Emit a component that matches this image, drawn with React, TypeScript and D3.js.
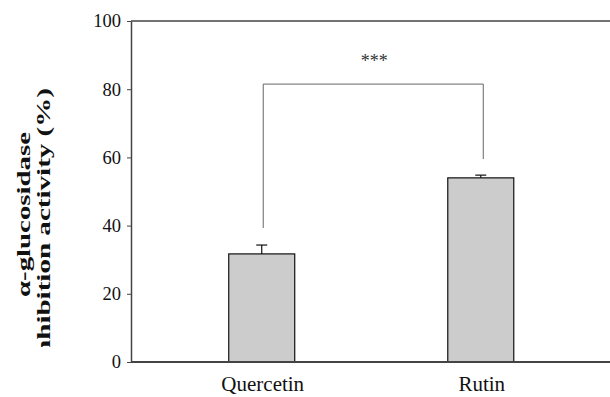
import React, { useRef, useEffect } from 'react';
import * as d3 from 'd3';

const categories = ['Quercetin', 'Rutin'];
const means = [31.7, 54.0];
const errors = [2.6, 0.8];
const yTicks = [0, 20, 40, 60, 80, 100];
// significance bracket: top level and the two leg ends (in % units)
const bracketTop = 81.5;
const bracketLegs = [39.3, 59.5];
const sigLabel = '***';
const yLabelLines = ['\u03b1-glucosidase', 'inhibition activity (%)'];

const App = () => {
    const ref = useRef<SVGSVGElement>(null);

    useEffect(() => {
        const svg = d3.select(ref.current);
        svg.selectAll('*').remove();

        const W = 610, H = 397;
        const margin = { top: 21, right: 0, bottom: 35, left: 131 };
        const serif = 'Liberation Serif, Times New Roman, serif';

        const x = d3.scalePoint<string>()
            .domain(categories)
            .range([margin.left + 1.5, W])
            .padding(0.59);
        const barW = 66;

        const y = d3.scaleLinear()
            .domain([0, 100])
            .range([H - margin.bottom, margin.top]);

        // bars
        svg.append('g')
            .selectAll('rect')
            .data(categories)
            .enter().append('rect')
            .attr('x', d => (x(d) as number) - barW / 2)
            .attr('y', (d, i) => y(means[i]))
            .attr('width', barW)
            .attr('height', (d, i) => y(0) - y(means[i]))
            .attr('fill', '#cccccc')
            .attr('stroke', '#111')
            .attr('stroke-width', 1.2);

        // error bars (upper only)
        const eb = svg.append('g').attr('stroke', '#111').attr('stroke-width', 1.2);
        categories.forEach((c, i) => {
            const cx = x(c) as number;
            eb.append('line')
                .attr('x1', cx).attr('x2', cx)
                .attr('y1', y(means[i])).attr('y2', y(means[i] + errors[i]));
            eb.append('line')
                .attr('x1', cx - 5.5).attr('x2', cx + 5.5)
                .attr('y1', y(means[i] + errors[i])).attr('y2', y(means[i] + errors[i]));
        });

        // axes frame: left axis, bottom line, top line
        const axis = svg.append('g')
            .attr('transform', 'translate(' + margin.left + ',0)')
            .call(d3.axisLeft(y).tickValues(yTicks).tickSize(4).tickSizeOuter(0).tickPadding(6));
        axis.attr('font-family', null).attr('font-size', null);
        axis.select('.domain').attr('stroke', '#444').attr('stroke-width', 1.5);
        axis.selectAll('.tick line').attr('stroke', '#444');
        axis.selectAll('.tick text')
            .style('font-family', serif)
            .style('font-size', '18.5px')
            .attr('fill', '#111');

        svg.append('line')
            .attr('x1', margin.left).attr('x2', W)
            .attr('y1', y(0)).attr('y2', y(0))
            .attr('stroke', '#444').attr('stroke-width', 2);
        svg.append('line')
            .attr('x1', margin.left).attr('x2', W)
            .attr('y1', y(100)).attr('y2', y(100))
            .attr('stroke', '#444').attr('stroke-width', 1.5);

        // category labels
        svg.append('g')
            .selectAll('text')
            .data(categories)
            .enter().append('text')
            .attr('x', d => (x(d) as number) + 1)
            .attr('y', 391)
            .attr('text-anchor', 'middle')
            .style('font-family', serif)
            .style('font-size', '21px')
            .attr('fill', '#111')
            .text(d => d);

        // significance bracket
        const x0 = (x(categories[0]) as number) + 1.5;
        const x1 = (x(categories[1]) as number) + 2.5;
        svg.append('path')
            .attr('d', d3.line()([
                [x0, y(bracketLegs[0])],
                [x0, y(bracketTop)],
                [x1, y(bracketTop)],
                [x1, y(bracketLegs[1])]
            ]))
            .attr('fill', 'none')
            .attr('stroke', '#666')
            .attr('stroke-width', 1);
        svg.append('text')
            .attr('x', (x0 + x1) / 2 + 1)
            .attr('y', 67)
            .attr('text-anchor', 'middle')
            .style('font-family', serif)
            .style('font-size', '18px')
            .attr('fill', '#333')
            .text(sigLabel);

        // y label (two stretched, rotated lines, clipped at the bottom)
        svg.append('clipPath').attr('id', 'ylab-clip')
            .append('rect').attr('x', 0).attr('y', 0).attr('width', 70).attr('height', 347);
        const lab = svg.append('g').attr('clip-path', 'url(#ylab-clip)');
        const labs = [
            { cx: 30, cy: 214.5, len: 165 },
            { cx: 50, cy: 226, len: 276 }
        ];
        yLabelLines.forEach((t, i) => {
            lab.append('text')
                .attr('transform', 'translate(' + labs[i].cx + ',' + labs[i].cy + ') rotate(-90)')
                .attr('text-anchor', 'middle')
                .style('font-family', serif)
                .style('font-weight', 'bold')
                .style('font-size', '18px')
                .attr('fill', '#111')
                .attr('textLength', labs[i].len)
                .attr('lengthAdjust', 'spacingAndGlyphs')
                .text(t);
        });
    }, []);

    return (
        <svg ref={ref} width={610} height={397}
            style={{ position: 'absolute', left: 0, top: 0, background: '#fff' }}></svg>
    );
};

export default App;
